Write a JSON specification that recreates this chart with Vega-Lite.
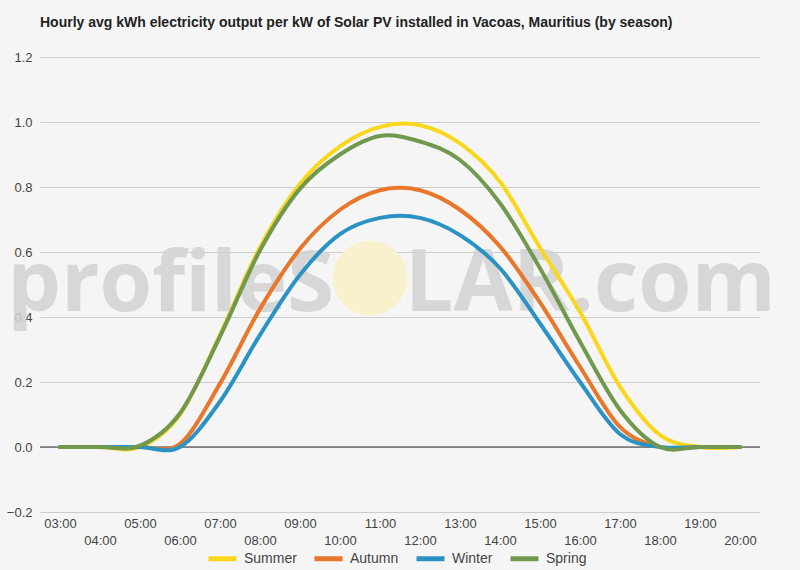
{
  "$schema": "https://vega.github.io/schema/vega-lite/v6.json",
  "width": 720,
  "height": 455,
  "autosize": {"type": "none"},
  "padding": {"left": 40, "top": 57, "right": 40, "bottom": 58},
  "background": "#f5f5f5",
  "title": {
    "text": "Hourly avg kWh electricity output per kW of Solar PV installed in Vacoas, Mauritius (by season)",
    "anchor": "start",
    "frame": "group",
    "font": "Liberation Sans",
    "fontSize": 14,
    "fontWeight": "bold",
    "color": "#222222",
    "offset": 21
  },
  "config": {
    "view": {"stroke": null},
    "font": "Liberation Sans"
  },
  "data": {
    "values": [
      {"hour": 3, "season": "Summer", "kwh": 0},
      {"hour": 4, "season": "Summer", "kwh": 0},
      {"hour": 5, "season": "Summer", "kwh": 0},
      {"hour": 6, "season": "Summer", "kwh": 0.1},
      {"hour": 7, "season": "Summer", "kwh": 0.345},
      {"hour": 8, "season": "Summer", "kwh": 0.615},
      {"hour": 9, "season": "Summer", "kwh": 0.81},
      {"hour": 10, "season": "Summer", "kwh": 0.925},
      {"hour": 11, "season": "Summer", "kwh": 0.985},
      {"hour": 12, "season": "Summer", "kwh": 0.99},
      {"hour": 13, "season": "Summer", "kwh": 0.934},
      {"hour": 14, "season": "Summer", "kwh": 0.816},
      {"hour": 15, "season": "Summer", "kwh": 0.613},
      {"hour": 16, "season": "Summer", "kwh": 0.416},
      {"hour": 17, "season": "Summer", "kwh": 0.186},
      {"hour": 18, "season": "Summer", "kwh": 0.037},
      {"hour": 19, "season": "Summer", "kwh": 0},
      {"hour": 20, "season": "Summer", "kwh": 0},
      {"hour": 3, "season": "Autumn", "kwh": 0},
      {"hour": 4, "season": "Autumn", "kwh": 0},
      {"hour": 5, "season": "Autumn", "kwh": 0},
      {"hour": 6, "season": "Autumn", "kwh": 0.01},
      {"hour": 7, "season": "Autumn", "kwh": 0.195},
      {"hour": 8, "season": "Autumn", "kwh": 0.425},
      {"hour": 9, "season": "Autumn", "kwh": 0.61},
      {"hour": 10, "season": "Autumn", "kwh": 0.73},
      {"hour": 11, "season": "Autumn", "kwh": 0.79},
      {"hour": 12, "season": "Autumn", "kwh": 0.79},
      {"hour": 13, "season": "Autumn", "kwh": 0.73},
      {"hour": 14, "season": "Autumn", "kwh": 0.617},
      {"hour": 15, "season": "Autumn", "kwh": 0.445},
      {"hour": 16, "season": "Autumn", "kwh": 0.247},
      {"hour": 17, "season": "Autumn", "kwh": 0.062},
      {"hour": 18, "season": "Autumn", "kwh": 0},
      {"hour": 19, "season": "Autumn", "kwh": 0},
      {"hour": 20, "season": "Autumn", "kwh": 0},
      {"hour": 3, "season": "Winter", "kwh": 0},
      {"hour": 4, "season": "Winter", "kwh": 0},
      {"hour": 5, "season": "Winter", "kwh": 0},
      {"hour": 6, "season": "Winter", "kwh": 0},
      {"hour": 7, "season": "Winter", "kwh": 0.14},
      {"hour": 8, "season": "Winter", "kwh": 0.345},
      {"hour": 9, "season": "Winter", "kwh": 0.53},
      {"hour": 10, "season": "Winter", "kwh": 0.655},
      {"hour": 11, "season": "Winter", "kwh": 0.705},
      {"hour": 12, "season": "Winter", "kwh": 0.705},
      {"hour": 13, "season": "Winter", "kwh": 0.652},
      {"hour": 14, "season": "Winter", "kwh": 0.55},
      {"hour": 15, "season": "Winter", "kwh": 0.38},
      {"hour": 16, "season": "Winter", "kwh": 0.2},
      {"hour": 17, "season": "Winter", "kwh": 0.04},
      {"hour": 18, "season": "Winter", "kwh": 0},
      {"hour": 19, "season": "Winter", "kwh": 0},
      {"hour": 20, "season": "Winter", "kwh": 0},
      {"hour": 3, "season": "Spring", "kwh": 0},
      {"hour": 4, "season": "Spring", "kwh": 0},
      {"hour": 5, "season": "Spring", "kwh": 0.004},
      {"hour": 6, "season": "Spring", "kwh": 0.104},
      {"hour": 7, "season": "Spring", "kwh": 0.34},
      {"hour": 8, "season": "Spring", "kwh": 0.605},
      {"hour": 9, "season": "Spring", "kwh": 0.795},
      {"hour": 10, "season": "Spring", "kwh": 0.9},
      {"hour": 11, "season": "Spring", "kwh": 0.957},
      {"hour": 12, "season": "Spring", "kwh": 0.94},
      {"hour": 13, "season": "Spring", "kwh": 0.883},
      {"hour": 14, "season": "Spring", "kwh": 0.75},
      {"hour": 15, "season": "Spring", "kwh": 0.55},
      {"hour": 16, "season": "Spring", "kwh": 0.324},
      {"hour": 17, "season": "Spring", "kwh": 0.114},
      {"hour": 18, "season": "Spring", "kwh": 0},
      {"hour": 19, "season": "Spring", "kwh": 0},
      {"hour": 20, "season": "Spring", "kwh": 0}
    ]
  },
  "layer": [
    {
      "data": {"values": [{}]},
      "mark": {"type": "point", "filled": true, "shape": "circle", "color": "#f9f1cd", "opacity": 1},
      "encoding": {
        "x": {"datum": 10.75, "type": "quantitative"},
        "y": {"datum": 0.52, "type": "quantitative"},
        "size": {"value": 5600}
      }
    },
    {
      "data": {"values": [{}]},
      "mark": {"type": "text", "align": "right", "baseline": "alphabetic", "font": "Open Sans", "fontWeight": "bold", "fontSize": 85, "color": "#d2d2d2", "opacity": 0.85},
      "encoding": {
        "x": {"datum": 9.85, "type": "quantitative"},
        "y": {"datum": 0.418, "type": "quantitative"},
        "text": {"value": "profileS"}
      }
    },
    {
      "data": {"values": [{}]},
      "mark": {"type": "text", "align": "left", "baseline": "alphabetic", "font": "Open Sans", "fontWeight": "bold", "fontSize": 86, "color": "#d2d2d2", "opacity": 0.85},
      "encoding": {
        "x": {"datum": 11.62, "type": "quantitative"},
        "y": {"datum": 0.418, "type": "quantitative"},
        "text": {"value": "LAR.com"}
      }
    },
    {
      "data": {"values": [{}]},
      "mark": {"type": "rule", "color": "#333333", "strokeWidth": 1},
      "encoding": {
        "y": {"datum": 0, "type": "quantitative"}
      }
    },
    {
      "mark": {"type": "line", "interpolate": "cardinal", "strokeWidth": 4, "strokeCap": "round"},
      "encoding": {
        "x": {
          "field": "hour",
          "type": "quantitative",
          "scale": {"domain": [2.5, 20.5], "nice": false, "zero": false},
          "axis": {
            "title": null,
            "values": [3, 4, 5, 6, 7, 8, 9, 10, 11, 12, 13, 14, 15, 16, 17, 18, 19, 20],
            "labelExpr": "datum.value % 2 == 1 ? (datum.value < 10 ? '0' : '') + datum.value + ':00' : ['', (datum.value < 10 ? '0' : '') + datum.value + ':00']",
            "grid": false,
            "domain": false,
            "ticks": false,
            "labelFontSize": 13,
            "labelColor": "#444444",
            "labelPadding": 5,
            "labelLineHeight": 17,
            "labelFlush": false,
            "labelOverlap": false
          }
        },
        "y": {
          "field": "kwh",
          "type": "quantitative",
          "scale": {"domain": [-0.2, 1.2], "nice": false, "zero": false},
          "axis": {
            "title": null,
            "values": [-0.2, -0.1, 0, 0.1, 0.2, 0.3, 0.4, 0.5, 0.6, 0.7, 0.8, 0.9, 1.0, 1.1, 1.2],
            "labelExpr": "abs(round(datum.value * 10)) % 2 == 0 ? format(datum.value, '.1f') : ''",
            "grid": true,
            "gridColor": {"condition": {"test": "abs(round(datum.value * 10)) % 2 == 0", "value": "#cccccc"}, "value": "#e4e4e4"},
            "gridWidth": 1,
            "domain": false,
            "ticks": false,
            "labelFontSize": 13,
            "labelColor": "#444444",
            "labelPadding": 8,
            "labelFlush": false,
            "labelOverlap": false
          }
        },
        "color": {
          "field": "season",
          "type": "nominal",
          "sort": ["Summer", "Autumn", "Winter", "Spring"],
          "scale": {
            "domain": ["Summer", "Autumn", "Winter", "Spring"],
            "range": ["#f9d71c", "#e8762b", "#2a93c4", "#70994e"]
          },
          "legend": {
            "title": null,
            "orient": "none",
            "legendX": 166,
            "legendY": 485,
            "direction": "horizontal",
            "symbolType": "stroke",
            "symbolStrokeWidth": 5,
            "symbolSize": 784,
            "labelFontSize": 14,
            "labelColor": "#444444",
            "labelOffset": 5,
            "columnPadding": 7
          }
        }
      }
    }
  ]
}
